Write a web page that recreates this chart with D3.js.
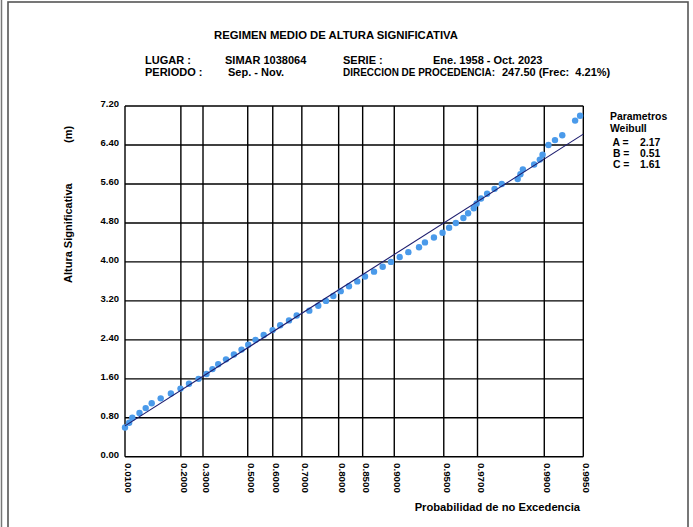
<!DOCTYPE html>
<html>
<head>
<meta charset="utf-8">
<script src="https://cdn.jsdelivr.net/npm/d3@7"></script>
<style>
  html, body { margin: 0; padding: 0; background: #fff; }
  svg text { font-family: "Liberation Sans", Arial, Helvetica, sans-serif; font-weight: bold; fill: #000; }
</style>
</head>
<body>
<svg id="chart" width="693" height="527"></svg>
<script>
// Weibull fit parameters (location B, scale A, shape C)
const paramA = 2.17;
const paramB = 0.51;
const paramC = 1.61;

// Probability-axis ticks
const probTicks = [0.01, 0.2, 0.3, 0.5, 0.6, 0.7, 0.8, 0.85, 0.9, 0.95, 0.97, 0.99, 0.995];
const probTickLabels = ["0.0100", "0.2000", "0.3000", "0.5000", "0.6000", "0.7000", "0.8000",
                        "0.8500", "0.9000", "0.9500", "0.9700", "0.9900", "0.9950"];

// Height-axis ticks (m)
const heightTicks = [0, 0.8, 1.6, 2.4, 3.2, 4.0, 4.8, 5.6, 6.4, 7.2];
const heightTickLabels = ["0.00", "0.80", "1.60", "2.40", "3.20", "4.00", "4.80", "5.60", "6.40", "7.20"];

// Empirical distribution: significant wave height (m) and non-exceedance probability
const waveHeight = [0.6, 0.7, 0.8, 0.9, 1.0, 1.1, 1.2, 1.3, 1.4, 1.5, 1.6, 1.7, 1.8, 1.9, 2.0,
                    2.1, 2.2, 2.3, 2.4, 2.5, 2.6, 2.7, 2.8, 2.9, 3.0, 3.1, 3.2, 3.3, 3.4, 3.5,
                    3.6, 3.7, 3.8, 3.9, 4.0, 4.1, 4.2, 4.3, 4.4, 4.5, 4.6, 4.7, 4.8, 4.9, 5.0,
                    5.1, 5.2, 5.3, 5.4, 5.5, 5.6, 5.7, 5.8, 5.9, 6.0, 6.1, 6.2, 6.4, 6.5, 6.6,
                    6.9, 7.0];
const nonExceedance = [0.0100, 0.0178, 0.0248, 0.0435, 0.0623, 0.0826, 0.1159, 0.1570, 0.1983, 0.2361,
                       0.2795, 0.3160, 0.3435, 0.3697, 0.4050, 0.4402, 0.4735, 0.5020, 0.5323, 0.5651,
                       0.5993, 0.6273, 0.6581, 0.6836, 0.7227, 0.7483, 0.7689, 0.7873, 0.8047, 0.8229,
                       0.8398, 0.8543, 0.8699, 0.8836, 0.8955, 0.9070, 0.9173, 0.9287, 0.9344, 0.9423,
                       0.9491, 0.9538, 0.9582, 0.9627, 0.9653, 0.9682, 0.9696, 0.9716, 0.9742, 0.9771,
                       0.9796, 0.9843, 0.9850, 0.9856, 0.9881, 0.9892, 0.9897, 0.9907, 0.9917, 0.9927,
                       0.9942, 0.9947];

const svg = d3.select("#chart");

// Weibull probability paper: abscissa linear in (-ln(1-p))^(1/C)
const reduced = p => Math.pow(-Math.log(1 - p), 1 / paramC);
const pMin = 0.01, pMax = 0.995;
const xu = d3.scaleLinear().domain([reduced(pMin), reduced(pMax)]).range([125, 583.3]);
const x = p => xu(reduced(p));
const y = d3.scaleLinear().domain([0, 7.2]).range([456.8, 106]);

// Page frame
svg.append("line").attr("x1", 1.5).attr("x2", 1.5).attr("y1", 0).attr("y2", 527)
   .attr("stroke", "#777").attr("stroke-width", 1.5);
svg.append("rect").attr("x", 8).attr("y", 2).attr("width", 680).attr("height", 560)
   .attr("fill", "none").attr("stroke", "#555").attr("stroke-width", 1.6);

// Header
svg.append("text").attr("x", 336).attr("y", 38.5).attr("text-anchor", "middle")
   .style("font-size", "11.3px").text("REGIMEN MEDIO DE ALTURA SIGNIFICATIVA");
const header = [
  ["LUGAR :", 145, 63.5, null], ["SIMAR 1038064", 225, 63.5, null], ["SERIE :", 343, 63.5, null],
  ["Ene. 1958 - Oct. 2023", 433, 63.5, null],
  ["PERIODO :", 145, 76, null], ["Sep. - Nov.", 228, 76, null],
  ["DIRECCION DE PROCEDENCIA:", 343, 76, 152], ["247.50 (Frec:  4.21%)", 502, 76, null]
];
svg.append("g").selectAll("text").data(header).join("text")
   .attr("x", d => d[1]).attr("y", d => d[2])
   .attr("xml:space", "preserve")
   .attr("textLength", d => d[3])
   .attr("lengthAdjust", "spacingAndGlyphs")
   .style("font-size", "11px").text(d => d[0]);

// Grid
const grid = svg.append("g").attr("stroke", "#000").attr("stroke-width", 1.4);
grid.selectAll("line.h").data(heightTicks).join("line").attr("class", "h")
    .attr("x1", x(pMin)).attr("x2", x(pMax)).attr("y1", d => y(d)).attr("y2", d => y(d));
grid.selectAll("line.v").data(probTicks).join("line").attr("class", "v")
    .attr("x1", d => x(d)).attr("x2", d => x(d)).attr("y1", y(0)).attr("y2", y(7.2));

// Height tick labels
svg.append("g").selectAll("text").data(heightTicks).join("text")
   .attr("x", 119).attr("y", d => y(d) + 1).attr("text-anchor", "end")
   .style("font-size", "9.5px").text((d, i) => heightTickLabels[i]);

// Probability tick labels (rotated)
svg.append("g").selectAll("text").data(probTicks).join("text")
   .attr("transform", d => `translate(${x(d)},463) rotate(90)`)
   .attr("text-anchor", "start")
   .style("font-size", "9.8px").text((d, i) => probTickLabels[i]);

// Axis titles
svg.append("text").attr("transform", "translate(71.5,283) rotate(-90)")
   .style("font-size", "11px").text("Altura Significativa");
svg.append("text").attr("transform", "translate(71.5,143) rotate(-90)")
   .style("font-size", "11px").text("(m)");
svg.append("text").attr("x", 580).attr("y", 511).attr("text-anchor", "end")
   .style("font-size", "11.2px").text("Probabilidad de no Excedencia");

// Empirical points
const points = waveHeight.map((h, i) => ({ h, p: nonExceedance[i] }));
svg.append("g").selectAll("circle").data(points).join("circle")
   .attr("cx", d => x(d.p)).attr("cy", d => y(d.h)).attr("r", 3.2)
   .attr("fill", "#4a9aea");

// Fitted Weibull line
const fitProbs = [pMin, pMax];
const fitLine = d3.line().x(d => x(d)).y(d => y(paramB + paramA * reduced(d)));
svg.append("path").datum(fitProbs).attr("d", fitLine)
   .attr("fill", "none").attr("stroke", "#1c1c6e").attr("stroke-width", 1.1);

// Parameter box
const legend = [
  ["Parametros", 610, 120], ["Weibull", 610, 131.8],
  [" A =", 610, 145.7], ["2.17", 640, 145.7],
  [" B =", 610, 156.7], ["0.51", 640, 156.7],
  [" C =", 610, 167.7], ["1.61", 640, 167.7]
];
svg.append("g").selectAll("text").data(legend).join("text")
   .attr("x", d => d[1]).attr("y", d => d[2])
   .attr("xml:space", "preserve")
   .style("font-size", "10.4px").text(d => d[0]);
</script>
</body>
</html>
